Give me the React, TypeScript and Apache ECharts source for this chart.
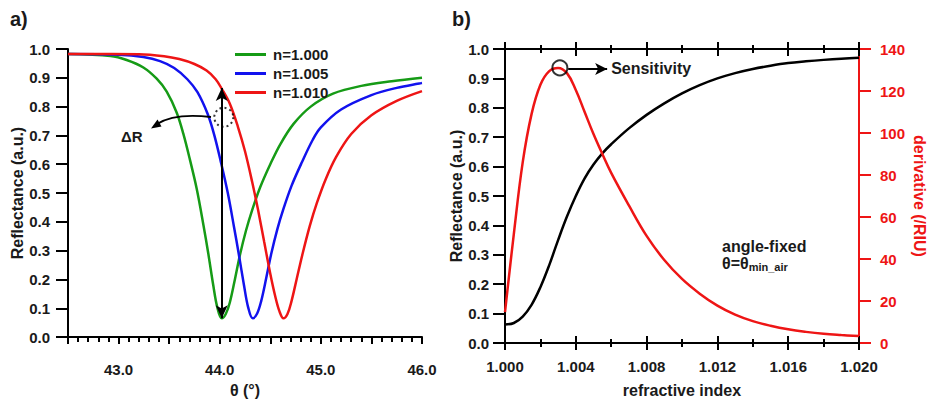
import React, { useEffect, useRef } from "react";
import * as echarts from "echarts";

// ---- Panel a) reflectance vs angle ----
const thetaN1000 = [42.5, 42.92, 43.08, 43.245, 43.377, 43.476, 43.575, 43.64, 43.706, 43.773, 43.838, 43.887, 43.937, 43.975, 44.02, 44.06, 44.1, 44.15, 44.2, 44.26, 44.32, 44.4, 44.5, 44.6, 44.73, 44.9, 45.12, 45.4, 45.7, 46.0];
const reflN1000 = [0.983, 0.976, 0.962, 0.936, 0.897, 0.852, 0.779, 0.706, 0.615, 0.514, 0.391, 0.29, 0.178, 0.105, 0.065, 0.08, 0.12, 0.2, 0.285, 0.37, 0.44, 0.52, 0.6, 0.67, 0.74, 0.8, 0.845, 0.872, 0.888, 0.9];

const thetaN1005 = [42.5, 43.0, 43.245, 43.41, 43.55, 43.68, 43.78, 43.88, 43.945, 44.01, 44.08, 44.14, 44.19, 44.24, 44.28, 44.326, 44.37, 44.41, 44.46, 44.51, 44.57, 44.63, 44.71, 44.81, 44.92, 45.0, 45.2, 45.5, 45.75, 46.0];
const reflN1005 = [0.983, 0.98, 0.972, 0.958, 0.934, 0.895, 0.85, 0.775, 0.703, 0.61, 0.5, 0.385, 0.285, 0.18, 0.105, 0.065, 0.082, 0.125, 0.205, 0.29, 0.375, 0.445, 0.525, 0.605, 0.685, 0.728, 0.79, 0.84, 0.865, 0.882];

const thetaN1010 = [42.5, 43.2, 43.45, 43.6, 43.75, 43.87, 43.96, 44.02, 44.1, 44.18, 44.25, 44.32, 44.38, 44.44, 44.5, 44.55, 44.59, 44.63, 44.67, 44.71, 44.76, 44.82, 44.89, 44.96, 45.05, 45.15, 45.3, 45.5, 45.75, 46.0];
const reflN1010 = [0.983, 0.982, 0.975, 0.965, 0.948, 0.925, 0.895, 0.862, 0.81, 0.73, 0.645, 0.54, 0.44, 0.33, 0.22, 0.14, 0.09, 0.065, 0.08, 0.125, 0.2, 0.29, 0.385, 0.465, 0.55, 0.625, 0.705, 0.77, 0.82, 0.854];

// ---- Panel b) reflectance and derivative vs refractive index ----
const indexB = [1.0, 1.0005, 1.001, 1.0015, 1.002, 1.0025, 1.003, 1.0035, 1.004, 1.0045, 1.005, 1.0055, 1.006, 1.007, 1.008, 1.009, 1.01, 1.011, 1.012, 1.013, 1.014, 1.015, 1.016, 1.017, 1.018, 1.019, 1.02];
const reflIndex = [0.063, 0.068, 0.09, 0.13, 0.19, 0.265, 0.35, 0.43, 0.5, 0.56, 0.607, 0.645, 0.676, 0.73, 0.776, 0.815, 0.849, 0.877, 0.9, 0.918, 0.932, 0.943, 0.952, 0.958, 0.963, 0.967, 0.97];
const derivIndex = [14.7, 52, 86, 109, 123, 129.5, 131, 128.5, 120.5, 110, 99.5, 90, 81, 65.5, 51, 39.5, 30.5, 23.5, 17.8, 13.5, 10.4, 8.2, 6.5, 5.3, 4.4, 3.8, 3.3];

const legendNames = ["n=1.000", "n=1.005", "n=1.010"];
const peakPoint = [1.0031, 131];
const deltaRTop = 0.865;
const deltaRBottom = 0.065;
const deltaRTheta = 44.02;

const FONT = "'Liberation Sans', Arial, sans-serif";
const INK = "#1a1a1a";
const GREEN = "#169b16";
const BLUE = "#1212ee";
const RED = "#ee1515";

const zip = (a: number[], b: number[]) => a.map((v, i) => [v, b[i]]);

export default function App() {
  const ref = useRef<HTMLDivElement>(null);
  useEffect(() => {
    if (!ref.current) return;
    const chart = echarts.init(ref.current, null, { renderer: "svg" });
    const lbl = { fontFamily: FONT, fontWeight: "bold", fontSize: 15, color: INK };
    const nameStyle = { fontFamily: FONT, fontWeight: "bold", fontSize: 16, color: INK };
    const blackLine = { lineStyle: { color: "#000", width: 2 } };
    const rightX = (pos: string, inside: boolean, line: boolean, labels: boolean) => ({
      type: "value",
      gridIndex: 1,
      position: pos,
      min: 1.0,
      max: 1.02,
      interval: 0.004,
      axisLine: { show: line, onZero: false, ...blackLine },
      axisTick: { show: true, inside, length: 7, lineStyle: { color: "#000", width: 2 } },
      minorTick: { show: true, splitNumber: 2, length: 4, lineStyle: { color: "#000", width: 2 } },
      axisLabel: labels
        ? { show: true, margin: 16, ...lbl, formatter: (v: number) => v.toFixed(3) }
        : { show: false },
      splitLine: { show: false },
      name: labels ? "refractive index" : "",
      nameLocation: "middle",
      nameGap: 39,
      nameTextStyle: nameStyle,
    });

    chart.setOption({
      animation: false,
      backgroundColor: "#fff",
      grid: [
        { left: 68, top: 49, width: 354, height: 297 },
        { left: 505, top: 49, width: 354, height: 297 },
      ],
      legend: {
        show: true,
        data: legendNames,
        orient: "vertical",
        left: 235,
        top: 47,
        padding: 0,
        icon: "rect",
        itemWidth: 31,
        itemHeight: 3,
        itemGap: 4,
        textStyle: { fontFamily: FONT, fontWeight: "bold", fontSize: 15, color: INK, padding: [0, 0, 0, 2] },
      },
      xAxis: [
        {
          type: "value",
          gridIndex: 0,
          min: 42.5,
          max: 46.0,
          interval: 0.5,
          axisLine: { show: true, onZero: false, ...blackLine },
          axisTick: { show: true, length: 7, lineStyle: { color: "#000", width: 2 } },
          minorTick: { show: true, splitNumber: 5, length: 5, lineStyle: { color: "#000", width: 2 } },
          axisLabel: {
            margin: 25,
            ...lbl,
            formatter: (v: number) => (Math.abs(v - Math.round(v)) < 1e-6 ? v.toFixed(1) : ""),
          },
          splitLine: { show: false },
          name: "θ (°)",
          nameLocation: "middle",
          nameGap: 41,
          nameTextStyle: nameStyle,
        },
        rightX("bottom", false, true, true),
        rightX("bottom", true, false, false),
        rightX("top", false, true, false),
        rightX("top", true, false, false),
      ],
      yAxis: [
        {
          type: "value",
          gridIndex: 0,
          min: 0,
          max: 1,
          interval: 0.1,
          axisLine: { show: true, onZero: false, ...blackLine },
          axisTick: { show: true, length: 12, lineStyle: { color: "#000", width: 2 } },
          axisLabel: { margin: 18, ...lbl, formatter: (v: number) => v.toFixed(1) },
          splitLine: { show: false },
          name: "Reflectance (a.u.)",
          nameLocation: "middle",
          nameGap: 42,
          nameTextStyle: nameStyle,
        },
        {
          type: "value",
          gridIndex: 1,
          position: "left",
          min: 0,
          max: 1,
          interval: 0.1,
          axisLine: { show: true, onZero: false, ...blackLine },
          axisTick: { show: true, length: 12, lineStyle: { color: "#000", width: 2 } },
          axisLabel: { margin: 16, ...lbl, formatter: (v: number) => v.toFixed(1) },
          splitLine: { show: false },
          name: "Reflectance (a.u.)",
          nameLocation: "middle",
          nameGap: 40,
          nameTextStyle: nameStyle,
        },
        {
          type: "value",
          gridIndex: 1,
          position: "right",
          min: 0,
          max: 140,
          interval: 20,
          axisLine: { show: true, onZero: false, lineStyle: { color: RED, width: 2 } },
          axisTick: { show: true, length: 12, lineStyle: { color: RED, width: 2 } },
          axisLabel: { margin: 21, ...lbl, color: RED },
          splitLine: { show: false },
          name: "derivative (/RIU)",
          nameLocation: "middle",
          nameRotate: -90,
          nameGap: 52,
          nameTextStyle: { ...nameStyle, color: RED },
        },
      ],
      series: [
        {
          name: legendNames[0],
          type: "line",
          xAxisIndex: 0,
          yAxisIndex: 0,
          data: zip(thetaN1000, reflN1000),
          smooth: 0.35,
          symbol: "none",
          lineStyle: { color: GREEN, width: 2.5 },
          itemStyle: { color: GREEN },
          markLine: {
            silent: true,
            symbol: ["arrow", "arrow"],
            symbolSize: [9, 13],
            label: { show: false },
            lineStyle: { color: "#000", width: 2, type: "solid" },
            data: [
              [
                { coord: [deltaRTheta, deltaRBottom] },
                { coord: [deltaRTheta, deltaRTop] },
              ],
            ],
          },
          z: 3,
        },
        {
          name: legendNames[1],
          type: "line",
          xAxisIndex: 0,
          yAxisIndex: 0,
          data: zip(thetaN1005, reflN1005),
          smooth: 0.35,
          symbol: "none",
          lineStyle: { color: BLUE, width: 2.5 },
          itemStyle: { color: BLUE },
          z: 3,
        },
        {
          name: legendNames[2],
          type: "line",
          xAxisIndex: 0,
          yAxisIndex: 0,
          data: zip(thetaN1010, reflN1010),
          smooth: 0.35,
          symbol: "none",
          lineStyle: { color: RED, width: 2.5 },
          itemStyle: { color: RED },
          z: 3,
        },
        {
          name: "dotted",
          type: "scatter",
          xAxisIndex: 0,
          yAxisIndex: 0,
          data: [[44.04, 0.763]],
          symbol: "circle",
          symbolSize: 19,
          silent: true,
          itemStyle: { color: "rgba(0,0,0,0)", borderColor: "#000", borderWidth: 2, borderType: [2, 3] },
          z: 4,
        },
        {
          name: "reflectance",
          type: "line",
          xAxisIndex: 1,
          yAxisIndex: 1,
          data: zip(indexB, reflIndex),
          smooth: 0.4,
          symbol: "none",
          lineStyle: { color: "#000", width: 2.5 },
          itemStyle: { color: "#000" },
        },
        {
          name: "derivative",
          type: "line",
          xAxisIndex: 1,
          yAxisIndex: 2,
          data: zip(indexB, derivIndex),
          smooth: 0.4,
          symbol: "none",
          lineStyle: { color: RED, width: 2.5 },
          itemStyle: { color: RED },
          markLine: {
            silent: true,
            symbol: ["none", "arrow"],
            symbolSize: [9, 12],
            lineStyle: { color: "#000", width: 2, type: "solid" },
            label: {
              show: true,
              position: "end",
              distance: 4,
              formatter: "Sensitivity",
              fontFamily: FONT,
              fontWeight: "bold",
              fontSize: 16,
              color: INK,
            },
            data: [[{ coord: [1.00357, 130.5] }, { coord: [1.00577, 130.5] }]],
          },
        },
        {
          name: "peak",
          type: "scatter",
          xAxisIndex: 1,
          yAxisIndex: 2,
          data: [peakPoint],
          symbol: "circle",
          symbolSize: 15,
          silent: true,
          itemStyle: { color: "rgba(0,0,0,0)", borderColor: "#000", borderWidth: 2 },
          z: 4,
        },
      ],
      graphic: [
        {
          type: "text",
          left: 10,
          top: 9,
          style: { text: "a)", fontFamily: FONT, fontWeight: "bold", fontSize: 20, fill: INK },
        },
        {
          type: "text",
          left: 452,
          top: 9,
          style: { text: "b)", fontFamily: FONT, fontWeight: "bold", fontSize: 20, fill: INK },
        },
        {
          type: "bezierCurve",
          silent: true,
          shape: { x1: 211, y1: 117, cpx1: 185, cpy1: 114, cpx2: 168, cpy2: 117, x2: 157, y2: 124 },
          style: { stroke: "#000", lineWidth: 1.8, fill: "none" },
          z: 10,
        },
        {
          type: "polygon",
          silent: true,
          shape: { points: [[151, 128.5], [161.5, 126.5], [157.5, 119.5]] },
          style: { fill: "#000" },
          z: 10,
        },
        {
          type: "text",
          left: 121,
          top: 129,
          style: { text: "ΔR", fontFamily: FONT, fontWeight: "bold", fontSize: 15, fill: INK },
        },
        {
          type: "text",
          left: 722,
          top: 238,
          style: { text: "angle-fixed", fontFamily: FONT, fontWeight: "bold", fontSize: 16, fill: INK },
        },
        {
          type: "text",
          left: 722,
          top: 255,
          style: {
            text: "{a|θ=θ}{b|min_air}",
            rich: {
              a: { fontFamily: FONT, fontWeight: "bold", fontSize: 16, fill: INK, color: INK },
              b: {
                fontFamily: FONT,
                fontWeight: "bold",
                fontSize: 11,
                fill: INK,
                color: INK,
                padding: [8, 0, 0, 0],
              },
            },
          },
        },
      ],
    });
    return () => chart.dispose();
  }, []);
  return (
    <div
      ref={ref}
      style={{ position: "fixed", left: 0, top: 0, width: 928, height: 403, background: "#fff" }}
    />
  );
}
